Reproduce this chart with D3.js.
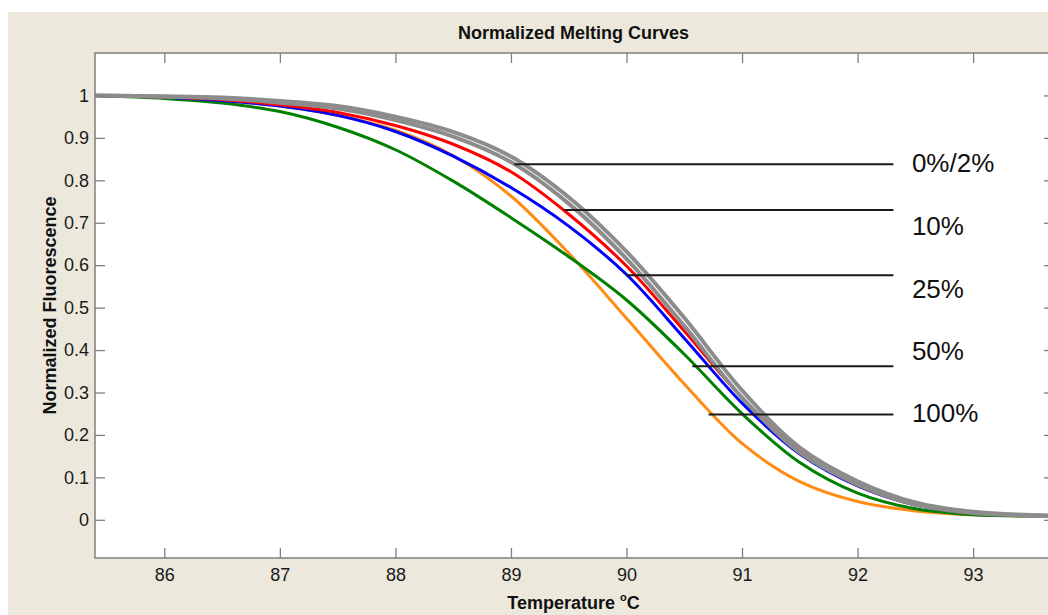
<!DOCTYPE html>
<html>
<head>
<meta charset="utf-8">
<script src="https://cdn.jsdelivr.net/npm/d3@7"></script>
<style>
  html, body { margin: 0; padding: 0; background: #fff; }
  svg { display: block; font-family: Arial, "Liberation Sans", sans-serif; }
</style>
</head>
<body>
<svg id="chart" width="1048" height="615"></svg>
<script>
var temps = [85.4, 86, 86.5, 87, 87.5, 88, 88.5, 89, 89.5, 90, 90.5, 91, 91.5, 92, 92.5, 93, 93.7];

// normalized fluorescence per sample
var gray0   = [1.0, 0.997, 0.993, 0.983, 0.969, 0.942, 0.903, 0.843, 0.745, 0.615, 0.457, 0.288, 0.158, 0.083, 0.036, 0.016, 0.009];
var gray2   = [1.0, 0.998, 0.995, 0.987, 0.975, 0.950, 0.914, 0.856, 0.760, 0.632, 0.476, 0.305, 0.170, 0.091, 0.041, 0.019, 0.010];
var red10   = [1.0, 0.996, 0.990, 0.978, 0.960, 0.929, 0.885, 0.820, 0.720, 0.598, 0.445, 0.288, 0.160, 0.082, 0.036, 0.016, 0.010];
var blue25  = [1.0, 0.996, 0.988, 0.975, 0.953, 0.915, 0.857, 0.783, 0.692, 0.578, 0.428, 0.275, 0.155, 0.080, 0.035, 0.016, 0.010];
var green50 = [1.0, 0.993, 0.982, 0.962, 0.925, 0.872, 0.798, 0.712, 0.620, 0.518, 0.390, 0.250, 0.135, 0.063, 0.026, 0.012, 0.009];
var orange100 = [1.0, 0.996, 0.988, 0.975, 0.953, 0.918, 0.858, 0.763, 0.628, 0.475, 0.320, 0.180, 0.090, 0.043, 0.021, 0.012, 0.009];

// axis ticks
var xTicks = [86, 87, 88, 89, 90, 91, 92, 93];
var yTicks = [0, 0.1, 0.2, 0.3, 0.4, 0.5, 0.6, 0.7, 0.8, 0.9, 1];

// annotations: text, point on the curve, label height
var annText   = ["0%/2%", "10%", "25%", "50%", "100%"];
var annCurveT = [89.03, 89.46, 90.0, 90.57, 90.71];
var annCurveF = [0.838, 0.730, 0.576, 0.362, 0.248];
var annLabelF = [0.840, 0.692, 0.543, 0.397, 0.251];
var annLineEndT = 92.31;
var annLabelT = 92.47;

var series = [
  { name: "100%", values: orange100, color: "#ff8c14", width: 3 },
  { name: "50%",  values: green50,   color: "#008000", width: 3 },
  { name: "25%",  values: blue25,    color: "#0000ff", width: 3 },
  { name: "10%",  values: red10,     color: "#ff0000", width: 3 },
  { name: "2%",   values: gray2,     color: "#8c8c8c", width: 4 },
  { name: "0%",   values: gray0,     color: "#8c8c8c", width: 4 }
];

var svg = d3.select("#chart");

// figure background
svg.append("rect").attr("x", 8).attr("y", 12).attr("width", 1040).attr("height", 603).attr("fill", "#ece9dc");

// plot box in pixels (right edge runs a little past the window)
var plotL = 95, plotT = 53, plotR = 1054, plotB = 558;

var x = d3.scaleLinear().domain([85.4, 93.7]).range([plotL, plotR]);
var y = d3.scaleLinear().domain([-0.09, 1.1]).range([plotB, plotT]);

svg.append("rect").attr("x", plotL).attr("y", plotT).attr("width", plotR - plotL).attr("height", plotB - plotT).attr("fill", "#fff");

svg.append("clipPath").attr("id", "clip")
  .append("rect").attr("x", plotL).attr("y", plotT).attr("width", plotR - plotL).attr("height", plotB - plotT);

var plot = svg.append("g").attr("clip-path", "url(#clip)");

var line = d3.line()
  .x(function(d) { return x(d[0]); })
  .y(function(d) { return y(d[1]); })
  .curve(d3.curveCatmullRom.alpha(0.5));

series.forEach(function(s) {
  plot.append("path")
    .attr("d", line(temps.map(function(t, i) { return [t, s.values[i]]; })))
    .attr("fill", "none")
    .attr("stroke", s.color)
    .attr("stroke-width", s.width)
    .attr("stroke-linejoin", "round");
});

// axes, matlab style: box with inward ticks on all four sides
var axisColor = "#7f7f7f";
function styleAxis(g, showText) {
  g.attr("font-family", null).attr("font-size", null);
  g.select(".domain").remove();
  g.selectAll(".tick line").attr("stroke", axisColor).attr("stroke-width", 1.3);
  g.selectAll(".tick text").attr("fill", "#1a1a1a").attr("font-size", 18);
  if (!showText) g.selectAll(".tick text").remove();
}

svg.append("g").attr("transform", "translate(0," + plotB + ")")
  .call(d3.axisBottom(x).tickValues(xTicks).tickFormat(d3.format("d")).tickSizeInner(-10).tickPadding(10))
  .call(styleAxis, true);
svg.append("g").attr("transform", "translate(0," + plotT + ")")
  .call(d3.axisTop(x).tickValues(xTicks).tickSizeInner(-10))
  .call(styleAxis, false);
svg.append("g").attr("transform", "translate(" + plotL + ",0)")
  .call(d3.axisLeft(y).tickValues(yTicks).tickFormat(function(d) { return String(+d.toFixed(1)); }).tickSizeInner(-10).tickPadding(6))
  .call(styleAxis, true);
svg.append("g").attr("transform", "translate(" + plotR + ",0)")
  .call(d3.axisRight(y).tickValues(yTicks).tickSizeInner(-10))
  .call(styleAxis, false);

svg.append("rect").attr("x", plotL).attr("y", plotT).attr("width", plotR - plotL).attr("height", plotB - plotT)
  .attr("fill", "none").attr("stroke", axisColor).attr("stroke-width", 1.5);

// annotation lines and labels
var ann = svg.append("g");
annText.forEach(function(txt, i) {
  ann.append("line")
    .attr("x1", x(annCurveT[i])).attr("x2", x(annLineEndT))
    .attr("y1", y(annCurveF[i])).attr("y2", y(annCurveF[i]))
    .attr("stroke", "#1a1a1a").attr("stroke-width", 2);
  ann.append("text")
    .attr("x", x(annLabelT)).attr("y", y(annLabelF[i]))
    .attr("dy", "0.35em")
    .attr("fill", "#111")
    .style("font-size", "26px")
    .text(txt);
});

// titles
var cx = (plotL + plotR) / 2 - 1;
svg.append("text").attr("x", cx).attr("y", 39).attr("text-anchor", "middle")
  .style("font-size", "18px").style("font-weight", "bold").attr("fill", "#111")
  .text("Normalized Melting Curves");

var xl = svg.append("text").attr("x", cx).attr("y", 609).attr("text-anchor", "middle")
  .style("font-size", "18px").style("font-weight", "bold").attr("fill", "#111");
xl.append("tspan").text("Temperature ");
xl.append("tspan").attr("dy", -8).style("font-size", "11px").text("o");
xl.append("tspan").attr("dy", 8).text("C");

svg.append("text")
  .attr("transform", "translate(56," + ((plotT + plotB) / 2) + ") rotate(-90)")
  .attr("text-anchor", "middle")
  .style("font-size", "18px").style("font-weight", "bold").attr("fill", "#111")
  .text("Normalized Fluorescence");
</script>
</body>
</html>
